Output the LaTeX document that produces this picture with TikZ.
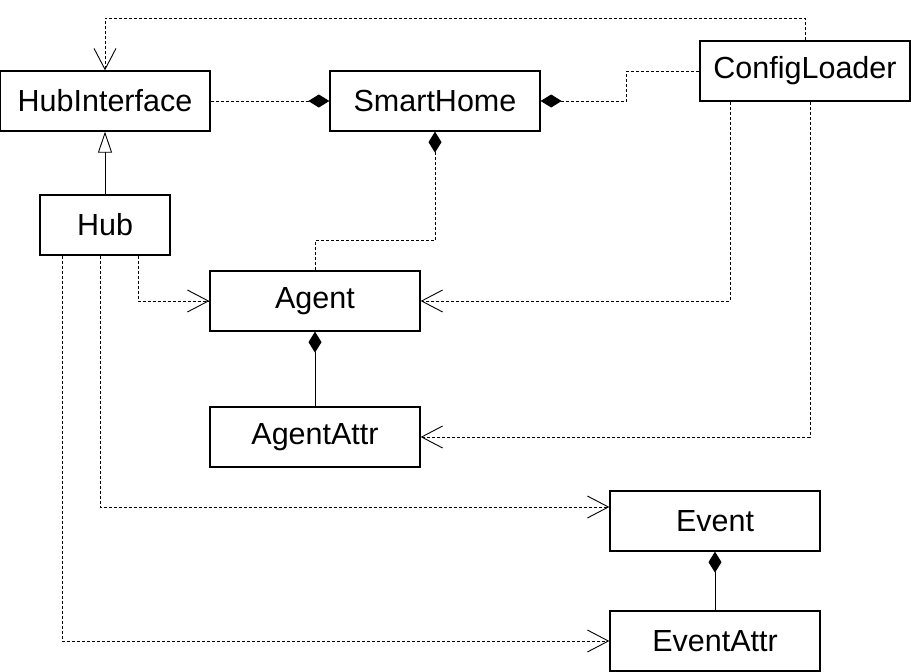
\documentclass[tikz,border=0pt]{standalone}
\usepackage{fontspec}
\setmainfont{Liberation Sans}
\usepackage{tikz}
\usetikzlibrary{arrows.meta,positioning}
\tikzset{
  classbox/.style={
    draw=black,
    fill=white,
    line width=1.3pt,
    minimum width=210pt,
    minimum height=60pt,
    inner sep=0pt,
    font=\fontsize{30.5}{34}\selectfont
  },
  smallclass/.style={
    classbox,
    minimum width=130pt
  },
  dependarrow/.style={
    -{Straight Barb[length=21pt,width=22pt,line width=0.9pt]},
    line width=0.9pt,
    dash pattern=on 3pt off 2pt
  },
  composearrow/.style={
    {Diamond[length=21pt,width=13pt]}-,
    line width=0.9pt
  },
  inheritarrow/.style={
    -{Triangle[open,length=21pt,width=14pt,line width=0.9pt]},
    line width=0.9pt
  }
}

\begin{document}
\begin{tikzpicture}[x=1pt,y=-1pt]
  \useasboundingbox (0,0) rectangle (911,672);

  \node[classbox] (hubif) at (105,101) {HubInterface};
  \node[classbox] (home) at (435,101) {SmartHome};
  \node[classbox] (loader) at (805,71) {ConfigLoader};
  \node[smallclass] (hub) at (105,225) {Hub};
  \node[classbox] (agent) at (315,301) {Agent};
  \node[classbox] (agentattr) at (315,437) {AgentAttr};
  \node[classbox] (event) at (715,521) {Event};
  \node[classbox] (eventattr) at (715,641) {EventAttr};

  % composition into SmartHome
  \draw[composearrow, dash pattern=on 3pt off 2pt] (home.west) -- (hubif.east);
  \draw[composearrow, dash pattern=on 3pt off 2pt] (home.east) -| ++(86,-30) -- (loader.west);
  \draw[composearrow, dash pattern=on 3pt off 2pt] (home.south) |- ++(-120,109) -- (agent.north);

  % inheritance
  \draw[inheritarrow] (hub.north) -- (hubif.south);

  % dependencies
  \draw[dependarrow] (loader.north) -- ++(0,-22) -| (hubif.north);
  \draw[dependarrow] ([xshift=33pt]hub.south) |- (agent.west);
  \draw[dependarrow] ([xshift=-75pt]loader.south) |- (agent.east);
  \draw[dependarrow] ([xshift=5pt]loader.south) |- (agentattr.east);
  \draw[dependarrow] ([xshift=-5pt]hub.south) |- ([yshift=14pt]event.west);
  \draw[dependarrow] ([xshift=-43pt]hub.south) |- (eventattr.west);

  % attribute composition
  \draw[composearrow] (agent.south) -- (agentattr.north);
  \draw[composearrow] (event.south) -- (eventattr.north);
\end{tikzpicture}
\end{document}
